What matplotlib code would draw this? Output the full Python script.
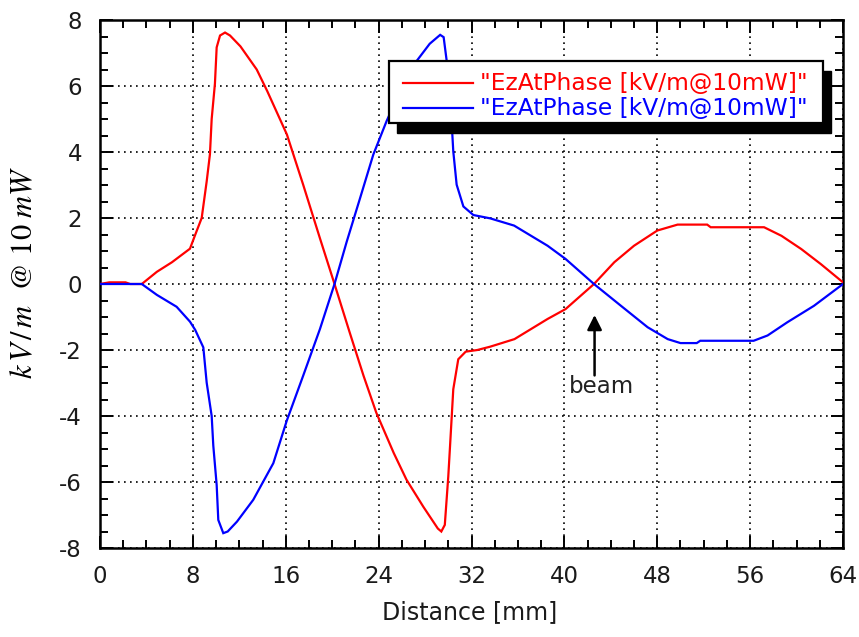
import matplotlib
matplotlib.use("Agg")
import matplotlib.pyplot as plt
from matplotlib.patches import Rectangle
from matplotlib.ticker import MultipleLocator

# ---- data ----
red_x = [0, 0.8, 2.2, 2.6, 3.6, 4.9, 6.2, 7.75, 8.2, 8.76, 9.19, 9.47, 9.62, 9.9,
         10.05, 10.34, 10.77, 11.2, 12.1, 13.5, 14.4, 16.1, 17.5, 18.95, 20.2, 21.5,
         22.7, 23.8, 25.3, 26.4, 27.85, 29.1, 29.4, 29.7, 30.0, 30.15, 30.43, 30.86,
         31.5, 32.5, 33.6, 35.7, 38.55, 40.1, 42.55, 44.3, 46.0, 48.0, 49.75, 52.3,
         52.6, 57.2, 58.7, 60.4, 62.1, 64]
red_y = [0, 0.05, 0.05, 0, 0, 0.37, 0.66, 1.07, 1.49, 2.0, 3.11, 3.93, 5.0, 6.07,
         7.17, 7.53, 7.62, 7.53, 7.2, 6.5, 5.85, 4.53, 3.01, 1.38, 0.0, -1.46,
         -2.78, -3.9, -5.12, -5.93, -6.75, -7.41, -7.5, -7.3, -5.83, -4.92, -3.19, -2.28,
         -2.05, -2.0, -1.9, -1.67, -1.06, -0.76, 0.0, 0.66, 1.16, 1.62, 1.8, 1.8,
         1.72, 1.72, 1.46, 1.06, 0.6, 0.05]

blue_x = [0, 3.6, 4.9, 6.6, 7.75, 8.2, 8.9, 9.19, 9.62, 9.76, 10.05, 10.19, 10.62,
          11.0, 11.8, 13.2, 14.93, 16.08, 17.5, 18.95, 20.2, 21.25, 22.4, 23.54, 24.69,
          26.4, 27.3, 28.4, 29.3, 29.6, 29.86, 30.1, 30.29, 30.43, 30.72, 31.3, 32.16,
          33.6, 35.67, 38.55, 40.1, 42.55, 44.87, 47.17, 48.9, 50.0, 51.4, 51.7, 56.3,
          57.5, 59.2, 61.5, 64]
blue_y = [0, 0, -0.33, -0.69, -1.14, -1.39, -1.92, -2.99, -4.0, -4.9, -6.09, -7.15, -7.55,
          -7.5, -7.2, -6.54, -5.43, -4.15, -2.78, -1.36, 0, 1.28, 2.6, 3.92, 4.94,
          6.26, 6.77, 7.28, 7.55, 7.48, 6.77, 5.6, 4.9, 4.02, 3.01, 2.35, 2.09,
          1.99, 1.77, 1.16, 0.76, 0, -0.66, -1.31, -1.67, -1.79, -1.79, -1.72, -1.72,
          -1.56, -1.16, -0.66, 0]

x_ticks = [0, 8, 16, 24, 32, 40, 48, 56, 64]
y_ticks = [-8, -6, -4, -2, 0, 2, 4, 6, 8]
legend_labels = ['"EzAtPhase [kV/m@10mW]"', '"EzAtPhase [kV/m@10mW]"']
x_label = "Distance [mm]"
y_label = r"$k\,V\,/\,m\ \ @\ 10\ mW$"
beam_label = "beam"
beam_x = 42.6
beam_tip_y = -0.94
beam_tail_y = -2.77

plt.rcParams['mathtext.fontset'] = 'stix'
plt.rcParams['font.family'] = ['DejaVu Sans']

fig = plt.figure(figsize=(8.59, 6.37), dpi=100)
ax = fig.add_axes([0.1164, 0.1397, 0.865, 0.8289])

ax.plot(red_x, red_y, color='#ff0000', lw=1.6, zorder=3, solid_joinstyle='miter')
ax.plot(blue_x, blue_y, color='#0000ff', lw=1.6, zorder=3, solid_joinstyle='miter')

ax.set_xlim(0, 64)
ax.set_ylim(-8, 8)
ax.set_xticks(x_ticks)
ax.set_yticks(y_ticks)
ax.set_xticklabels([str(v) for v in x_ticks])
ax.set_yticklabels([str(v) for v in y_ticks])
ax.xaxis.set_minor_locator(MultipleLocator(2))
ax.yaxis.set_minor_locator(MultipleLocator(0.5))
ax.tick_params(which='both', direction='in', top=True, right=True, width=1.4, color='black')
ax.tick_params(which='major', length=9, labelsize=16.5, labelcolor='#1a1a1a')
ax.tick_params(which='minor', length=5.5)
ax.tick_params(axis='x', which='major', pad=12)
ax.tick_params(axis='y', which='major', pad=13)
for s in ax.spines.values():
    s.set_linewidth(1.8)
    s.set_color('black')

ax.grid(True, which='major', color='black', linestyle=(0, (1, 2.6)), linewidth=1.2, zorder=1)
ax.set_axisbelow(True)

# legend (manual, with hard black shadow)
tr = ax.transAxes
bx0, bx1, by0, by1 = 0.389, 0.973, 0.8049, 0.9223
ax.add_patch(Rectangle((bx0 + 0.0108, by0 - 0.0189), bx1 - bx0, by1 - by0, transform=tr,
                       facecolor='black', edgecolor='black', zorder=6, clip_on=False))
ax.add_patch(Rectangle((bx0, by0), bx1 - bx0, by1 - by0, transform=tr,
                       facecolor='white', edgecolor='black', lw=1.6, zorder=7, clip_on=False))
for yy, col, lab in [(0.880, '#ff0000', legend_labels[0]), (0.8328, '#0000ff', legend_labels[1])]:
    ax.plot([0.4078, 0.502], [yy, yy], transform=tr, color=col, lw=1.6, zorder=8)
    ax.text(0.5114, yy, lab, transform=tr, color=col, fontsize=16.8, ha='left', va='center', zorder=8)

# beam annotation
ax.annotate('', xy=(beam_x, beam_tip_y), xytext=(beam_x, beam_tail_y),
            arrowprops=dict(arrowstyle='-|>', color='black', lw=1.8, mutation_scale=22,
                            shrinkA=0, shrinkB=0), zorder=5)
ax.text(beam_x + 0.6, beam_tail_y - 0.35, beam_label, fontsize=16.5, color='#222222',
        ha='center', va='center', zorder=5)

fig.text(470 / 859, 1 - 612 / 637, x_label, fontsize=17, color='#1a1a1a', ha='center', va='center')
fig.text(24 / 859, 1 - 272 / 637, y_label, fontsize=22, rotation=90, ha='center', va='center')

fig.savefig('out.png', dpi=100)
